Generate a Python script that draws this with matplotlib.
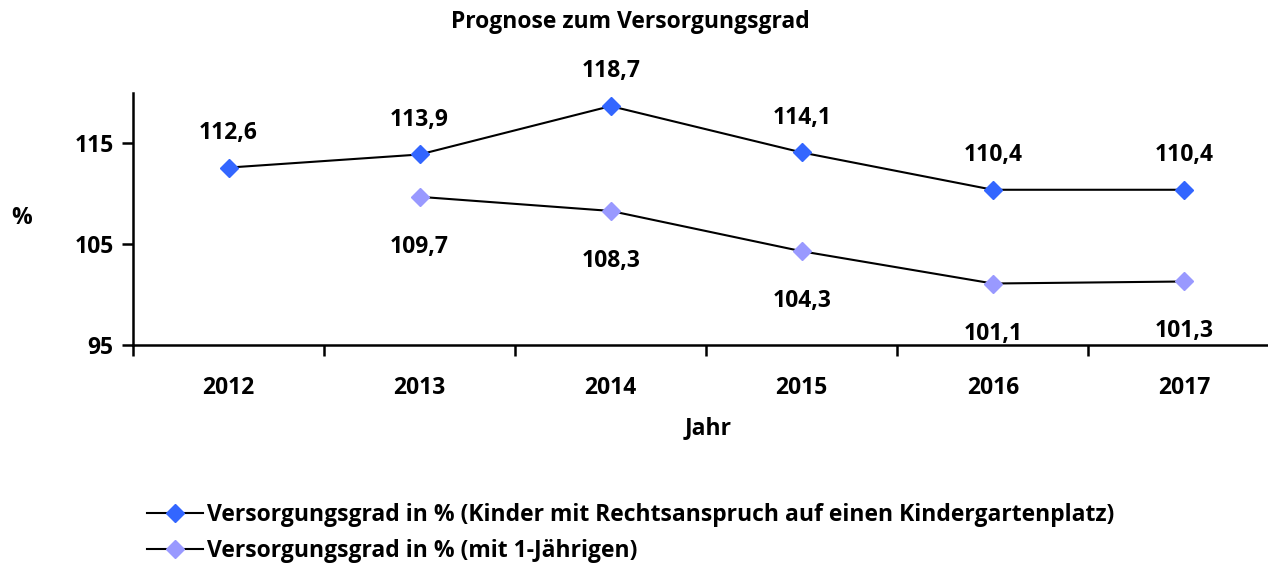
import numpy as np
import matplotlib.pyplot as plt

plt.rcParams['font.family'] = ['Open Sans', 'DejaVu Sans']
plt.rcParams['font.weight'] = 'bold'

# Daten
jahre = ["2012", "2013", "2014", "2015", "2016", "2017"]
grad_kinder = [112.6, 113.9, 118.7, 114.1, 110.4, 110.4]
grad_einjaehrige = [np.nan, 109.7, 108.3, 104.3, 101.1, 101.3]

label_kinder = "Versorgungsgrad in % (Kinder mit Rechtsanspruch auf einen Kindergartenplatz)"
label_einj = "Versorgungsgrad in % (mit 1-Jährigen)"

fs = 16.5

fig = plt.figure(figsize=(12.68, 5.65), dpi=100)
ax = fig.add_axes([133 / 1268, 1 - 345 / 565, (1268 - 133) / 1268, (345 - 93) / 565])

x = np.arange(len(jahre))
ax.plot(x, grad_kinder, color="black", lw=1.5, marker="D", ms=9,
        mfc="#3366FF", mec="#3366FF", label=label_kinder)
ax.plot(x, grad_einjaehrige, color="black", lw=1.5, marker="D", ms=9,
        mfc="#9999FF", mec="#9999FF", label=label_einj)

# Beschriftungen: obere Reihe darüber, untere Reihe darunter
for i, v in enumerate(grad_kinder):
    ax.annotate(f"{v:.1f}".replace(".", ","), (x[i], v), xytext=(0, 25),
                textcoords="offset points", ha="center", va="center", fontsize=fs)
for i, v in enumerate(grad_einjaehrige):
    if np.isnan(v):
        continue
    ax.annotate(f"{v:.1f}".replace(".", ","), (x[i], v), xytext=(0, -36),
                textcoords="offset points", ha="center", va="center", fontsize=fs)

ax.set_yticks([95, 105, 115])
ax.set_xticks(x)
ax.set_xticklabels(jahre, fontsize=fs)
ax.set_xticks(np.arange(-0.5, 6, 1), minor=True)
ax.set_xlim(-0.5, 5.44)
ax.set_ylim(95, 120)
ax.tick_params(axis="x", which="major", length=0, pad=22)
ax.tick_params(axis="x", which="minor", length=8, width=1.8)
ax.tick_params(axis="y", length=8, width=1.8, labelsize=fs, pad=6)

for s in ["top", "right"]:
    ax.spines[s].set_visible(False)
for s in ["left", "bottom"]:
    ax.spines[s].set_linewidth(1.8)

fig.text(22 / 1268, 1 - 218 / 565, "%", fontsize=fs, ha="center", va="center")
fig.text(708 / 1268, 1 - 428 / 565, "Jahr", fontsize=fs, ha="center", va="center")
fig.text(630 / 1268, 1 - 22 / 565, "Prognose zum Versorgungsgrad", fontsize=fs,
         ha="center", va="center")

fig.legend(loc="upper left", bbox_to_anchor=(147 / 1268, 1 - 503 / 565),
           frameon=False, fontsize=fs, handlelength=2.45, handletextpad=0.15,
           labelspacing=0.52, borderaxespad=0, borderpad=0)

fig.savefig("out.png", dpi=100)
